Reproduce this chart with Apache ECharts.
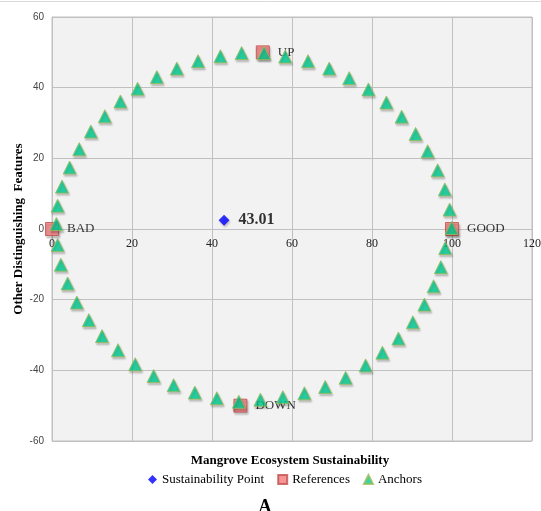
<!DOCTYPE html>
<html>
<head>
<meta charset="utf-8">
<script src="https://cdn.jsdelivr.net/npm/echarts@6/dist/echarts.min.js"></script>
<style>html,body{margin:0;padding:0;background:#fff}#c{width:541px;height:511px}</style>
</head>
<body>
<div id="c"></div>
<script>
// Sustainability point
const pointX = [43.01];
const pointY = [2.5];
const pointLabels = ['43.01'];
// References
const refNames = ['BAD', 'GOOD', 'UP', 'DOWN'];
const refX = [0, 100, 52.7, 47.1];
const refY = [0, 0, 50, -50];
// Anchors
const anchorX = [1.1, 1.4, 2.5, 4.4, 6.8, 9.7, 13.2, 17.1, 21.4, 26.2, 31.2, 36.5, 42.1, 47.4, 53.0, 58.3, 64.0, 69.3, 74.3, 79.1, 83.6, 87.4, 90.9, 93.9, 96.4, 98.2, 99.4, 99.9, 98.3, 97.2, 95.4, 93.1, 90.2, 86.6, 82.6, 78.4, 73.4, 68.3, 63.1, 57.7, 52.1, 46.7, 41.2, 35.7, 30.4, 25.4, 20.8, 16.5, 12.5, 9.2, 6.2, 3.9, 2.2, 1.4];
const anchorY = [1.4, 6.6, 12.0, 17.4, 22.6, 27.6, 31.9, 36.1, 39.7, 43.0, 45.4, 47.5, 48.9, 49.8, 49.8, 48.8, 47.5, 45.4, 42.7, 39.5, 35.8, 31.8, 26.9, 22.0, 16.6, 11.2, 5.5, 0.3, -5.4, -10.8, -16.2, -21.4, -26.4, -31.0, -35.0, -38.6, -42.1, -44.7, -46.5, -47.6, -48.3, -48.9, -47.9, -46.3, -44.2, -41.6, -38.3, -34.3, -30.3, -25.8, -20.8, -15.4, -10.1, -4.5];
// Axes
const xMin = 0, xMax = 120, xStep = 20;
const yMin = -60, yMax = 60, yStep = 20;
const xTitle = 'Mangrove Ecosystem Sustainability';
const yTitle = 'Other Distinguishing  Features';
const captionText = 'A';

const serif = '"Liberation Serif", "Times New Roman", serif';
const sans = '"Liberation Sans", Arial, sans-serif';
const gridColor = '#c0c0c0';
const shadow = {shadowBlur: 2, shadowOffsetX: 1, shadowOffsetY: 2, shadowColor: 'rgba(0,0,0,0.25)'};

const chart = echarts.init(document.getElementById('c'), null, {renderer: 'canvas'});
chart.setOption({
  animation: false,
  backgroundColor: '#ffffff',
  title: [
    {text: xTitle, left: 285, textAlign: 'center', top: 449,
     textStyle: {fontFamily: serif, fontWeight: 'bold', fontSize: 13, color: '#000'}},
    {text: captionText, left: 260, textAlign: 'center', top: 493,
     textStyle: {fontFamily: serif, fontWeight: 'bold', fontSize: 18, color: '#000'}}
  ],
  legend: {
    left: 143, top: 468, itemWidth: 9, itemHeight: 9, itemGap: 13,
    textStyle: {fontFamily: serif, fontSize: 13, color: '#000'},
    data: ['Sustainability Point', 'References', 'Anchors']
  },
  grid: {left: 52, right: 9, top: 17, bottom: 70, outerBoundsMode: 'none', containLabel: false,
         show: true, backgroundColor: '#f2f2f2', borderColor: gridColor, borderWidth: 1},
  xAxis: {
    type: 'value', min: xMin, max: xMax, interval: xStep,
    offset: -212,
    axisLine: {show: true, onZero: false, lineStyle: {color: gridColor}},
    axisTick: {show: false},
    axisLabel: {fontFamily: serif, fontSize: 12, color: '#222', margin: 9},
    splitLine: {show: true, lineStyle: {color: gridColor, width: 1}}
  },
  yAxis: {
    type: 'value', min: yMin, max: yMax, interval: yStep,
    name: yTitle, nameLocation: 'middle', nameGap: 27, nameRotate: 90, nameMoveOverlap: false,
    nameTextStyle: {fontFamily: serif, fontWeight: 'bold', fontSize: 13, color: '#000'},
    axisLine: {show: true, onZero: false, lineStyle: {color: gridColor}},
    axisTick: {show: false},
    axisLabel: {fontFamily: sans, fontSize: 10, color: '#444', margin: 8},
    splitLine: {show: true, lineStyle: {color: gridColor, width: 1}}
  },
  series: [
    {
      name: 'Sustainability Point', type: 'scatter', symbol: 'diamond', symbolSize: 11, z: 2,
      itemStyle: Object.assign({color: '#0000ff'}, shadow),
      label: {show: true, position: 'right', distance: 9, formatter: p => pointLabels[p.dataIndex],
              fontFamily: serif, fontWeight: 'bold', fontSize: 16, color: '#000'},
      data: pointX.map((x, i) => [x, pointY[i]])
    },
    {
      name: 'References', type: 'scatter', symbol: 'rect', symbolSize: 13, z: 3,
      itemStyle: Object.assign({color: '#f47b7b', borderColor: '#c0504d', borderWidth: 1}, shadow),
      label: {show: true, position: 'right', distance: 8, formatter: p => refNames[p.dataIndex],
              fontFamily: serif, fontSize: 13, color: '#000'},
      data: refX.map((x, i) => ({name: refNames[i], value: [x, refY[i]]}))
    },
    {
      name: 'Anchors', type: 'scatter', symbol: 'triangle', symbolSize: 13, z: 4,
      itemStyle: Object.assign({color: '#00cc92', borderColor: '#9bbb59', borderWidth: 1}, shadow),
      data: anchorX.map((x, i) => [x, anchorY[i]])
    }
  ],
  graphic: [
    {type: 'line', shape: {x1: 0, y1: 1.5, x2: 541, y2: 1.5}, style: {stroke: '#d9d9d9', lineWidth: 1}, silent: true}
  ]
});
</script>
</body>
</html>
